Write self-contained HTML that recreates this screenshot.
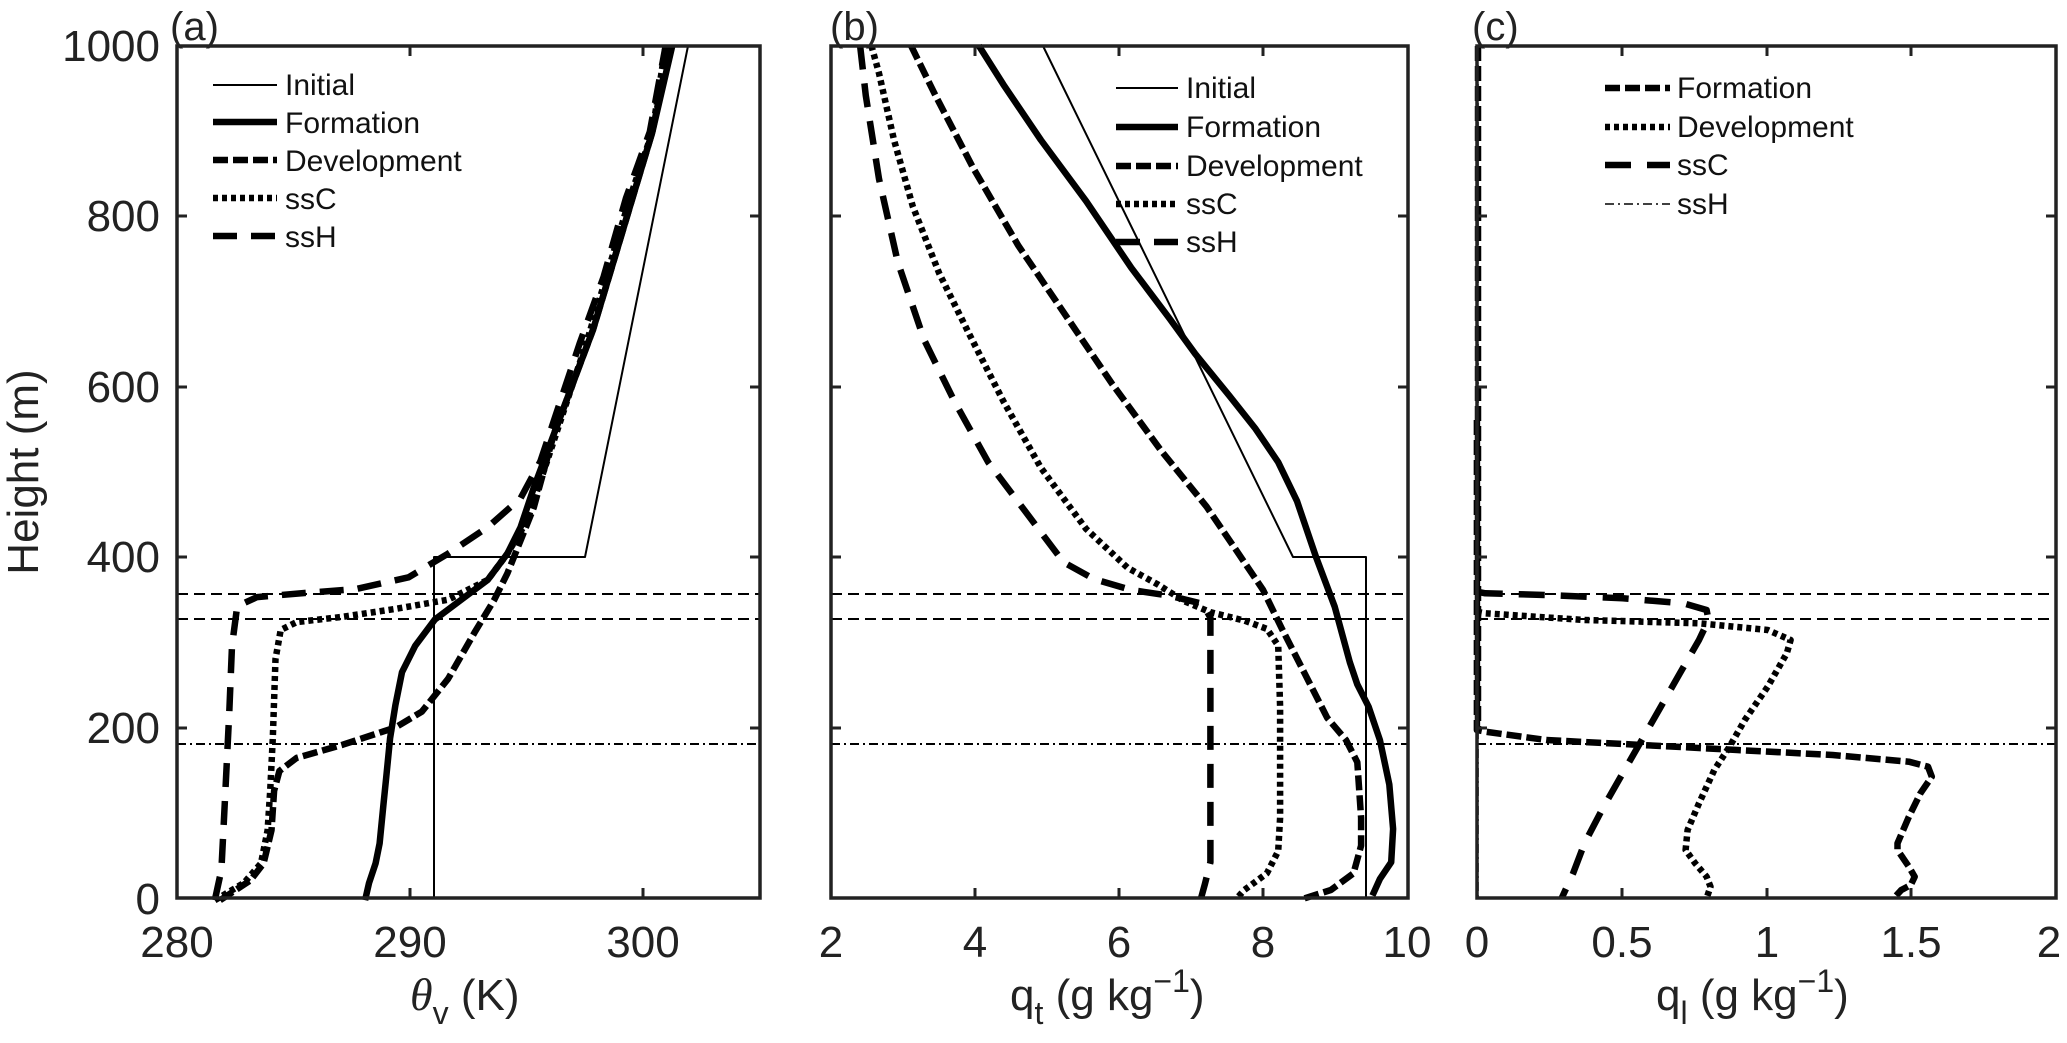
<!DOCTYPE html>
<html><head><meta charset="utf-8">
<style>
html,body{margin:0;padding:0;background:#fff;}
svg{display:block;font-family:"Liberation Sans",sans-serif;}
</style></head>
<body>
<svg id="s" width="2067" height="1043" viewBox="0 0 2067 1043" xmlns="http://www.w3.org/2000/svg">
<rect width="2067" height="1043" fill="#fff"/>
<g id="g"></g>
<g font-size="44" fill="#222">
<text x="170" y="40" font-size="40">(a)</text>
<text x="830" y="40" font-size="40">(b)</text>
<text x="1472" y="40" font-size="40">(c)</text>
<g text-anchor="end">
<text x="160" y="61">1000</text>
<text x="160" y="231">800</text>
<text x="160" y="402">600</text>
<text x="160" y="572">400</text>
<text x="160" y="743">200</text>
<text x="160" y="914">0</text>
</g>
<g text-anchor="middle">
<text x="177" y="957">280</text>
<text x="410" y="957">290</text>
<text x="643" y="957">300</text>
<text x="831" y="957">2</text>
<text x="975" y="957">4</text>
<text x="1119" y="957">6</text>
<text x="1263" y="957">8</text>
<text x="1407" y="957">10</text>
<text x="1477" y="957">0</text>
<text x="1622" y="957">0.5</text>
<text x="1767" y="957">1</text>
<text x="1911" y="957">1.5</text>
<text x="2049" y="957">2</text>
</g>
<text transform="translate(38,472) rotate(-90)" text-anchor="middle">Height (m)</text>
<text x="410" y="1010"><tspan font-family="Liberation Serif,serif" font-style="italic" font-size="46">θ</tspan><tspan dy="14" font-size="32">v</tspan><tspan dy="-14"> (K)</tspan></text>
<text x="1010" y="1010">q<tspan dy="14" font-size="32">t</tspan><tspan dy="-14"> (g kg</tspan><tspan dy="-18" font-size="32">−1</tspan><tspan dy="18">)</tspan></text>
<text x="1656" y="1010">q<tspan dy="14" font-size="32">l</tspan><tspan dy="-14"> (g kg</tspan><tspan dy="-18" font-size="32">−1</tspan><tspan dy="18">)</tspan></text>
</g>
<g font-size="30" fill="#111">
<text x="285" y="95">Initial</text>
<text x="285" y="133">Formation</text>
<text x="285" y="171">Development</text>
<text x="285" y="209">ssC</text>
<text x="285" y="247">ssH</text>
<text x="1186" y="98">Initial</text>
<text x="1186" y="137">Formation</text>
<text x="1186" y="176">Development</text>
<text x="1186" y="214">ssC</text>
<text x="1186" y="252">ssH</text>
<text x="1677" y="98">Formation</text>
<text x="1677" y="137">Development</text>
<text x="1677" y="175">ssC</text>
<text x="1677" y="214">ssH</text>
</g>
</svg>
<script>
var NS="http://www.w3.org/2000/svg",G=document.getElementById("g");
function el(t,a){var e=document.createElementNS(NS,t);for(var k in a)e.setAttribute(k,a[k]);G.appendChild(e);return e;}
function pl(pts,st){var s=pts.map(function(p){return p[0].toFixed(1)+","+p[1].toFixed(1)}).join(" ");
 var a={points:s,fill:"none",stroke:"#000","stroke-width":st.w,"stroke-linejoin":"round"};
 if(st.d)a["stroke-dasharray"]=st.d; el("polyline",a);}
var S={init:{w:2},form:{w:6.5},dev:{w:6.5,d:"15 5"},ssC:{w:6.5,d:"5 4"},ssH:{w:6.5,d:"24 14"},thinDD:{w:1.6,d:"9 4 2 4"}};
function A(arr){return arr.map(function(p){return [p[0]*1.318,p[1]*1.318]});}
[[177,760],[831,1408],[1477,2056]].forEach(function(r){
 el("line",{x1:r[0],x2:r[1],y1:594,y2:594,stroke:"#000","stroke-width":2,"stroke-dasharray":"11 6"});
 el("line",{x1:r[0],x2:r[1],y1:619,y2:619,stroke:"#000","stroke-width":2,"stroke-dasharray":"11 6"});
 el("line",{x1:r[0],x2:r[1],y1:744,y2:744,stroke:"#000","stroke-width":2,"stroke-dasharray":"9 4 2 4"});
});
pl([[434,898],[434,557],[585,557],[688,46]],S.init);
pl(A([[277,683],[280,670],[285,655],[288,640],[291,610],[293,590],[296,560],[300,535],[305,510],[315,490],[330,470],[350,455],[370,440],[385,420],[395,400],[405,370],[420,330],[435,290],[450,250],[465,200],[480,150],[495,100],[510,35]]),S.form);
pl(A([[167,683],[190,668],[200,655],[206,630],[208,600],[212,585],[225,575],[260,565],[300,552],[320,540],[340,515],[360,480],[375,455],[385,435],[395,410],[405,385],[420,330],[435,290],[450,250],[465,200],[480,150],[495,100],[508,35]]),S.dev);
pl(A([[163,683],[185,670],[198,655],[203,630],[205,600],[207,560],[209,500],[213,478],[225,472],[260,468],[300,462],[340,455],[370,440],[385,420],[400,395],[415,350],[430,305],[445,260],[460,210],[478,150],[495,100],[505,35]]),S.ssC);
pl(A([[163,683],[168,660],[171,600],[174,540],[176,490],[180,460],[195,453],[230,450],[270,447],[310,438],[340,420],[370,400],[395,378],[410,350],[425,305],[440,260],[458,210],[475,150],[493,100],[505,35]]),S.ssH);
function B(arr){return arr.map(function(p){return [830+p[0]/2.655,40+p[1]/1.80]});}
pl([[1043,46],[1293,557],[1366,557],[1366,898]],S.init);
pl(B([[395,10],[460,80],[560,180],[680,290],[800,410],[900,500],[970,565],[1060,640],[1130,700],[1190,760],[1240,830],[1290,930],[1340,1020],[1380,1120],[1400,1160],[1430,1200],[1460,1260],[1485,1340],[1495,1420],[1490,1480],[1460,1510],[1440,1540]]),S.form);
pl(B([[215,10],[280,100],[380,230],[500,370],[620,490],[750,620],[880,740],[1000,840],[1080,920],[1150,990],[1200,1060],[1260,1140],[1320,1220],[1370,1260],[1400,1300],[1410,1400],[1410,1450],[1390,1500],[1330,1530],[1260,1545]]),S.dev);
pl(B([[110,10],[130,60],[170,180],[220,300],[290,420],[370,530],[460,650],[560,770],[680,880],[790,950],[870,980],[940,1010],[1010,1030],[1100,1045],[1160,1060],[1190,1090],[1195,1200],[1195,1400],[1190,1460],[1160,1500],[1100,1530],[1080,1545]]),S.ssC);
pl(B([[80,10],[95,100],[130,250],[180,400],[250,540],[330,650],[420,760],[520,850],[620,940],[700,970],[800,990],[900,1000],[990,1015],[1010,1040],[1010,1200],[1010,1480],[995,1520],[985,1545]]),S.ssH);
function C(arr){return arr.map(function(p){return [1470+p[0]/2.62,420+p[1]/3.0]});}
pl([[1478,46],[1478,898]],S.thinDD);
pl([[1478,46],[1478,730]],{w:6.5,d:"15 5"});
pl(C([[18,0],[18,930],[40,935],[200,960],[450,975],[700,990],[950,1005],[1150,1025],[1200,1040],[1210,1070],[1180,1120],[1150,1190],[1120,1270],[1120,1290],[1150,1340],[1165,1370],[1155,1395],[1130,1410],[1110,1435]]),S.dev);
pl(C([[18,575],[40,580],[300,600],[600,610],[780,630],[840,660],[830,700],[780,800],[720,900],[680,980],[640,1050],[600,1150],[570,1230],[565,1290],[590,1330],[620,1370],[630,1400],[620,1435]]),S.ssC);
pl(C([[18,515],[40,520],[200,525],[400,535],[560,550],[620,570],[625,600],[600,660],[550,760],[500,860],[450,960],[400,1060],[350,1160],[300,1270],[270,1360],[240,1435]]),{w:6.5,d:"26 16"});
function box(x0,x1,xt,yt){
 el("rect",{x:x0,y:46,width:x1-x0,height:852,fill:"none",stroke:"#222","stroke-width":3.5});
 xt.forEach(function(x){el("line",{x1:x,x2:x,y1:898,y2:888,stroke:"#222","stroke-width":3});el("line",{x1:x,x2:x,y1:46,y2:56,stroke:"#222","stroke-width":3});});
 yt.forEach(function(y){el("line",{x1:x0,x2:x0+10,y1:y,y2:y,stroke:"#222","stroke-width":3});el("line",{x1:x1,x2:x1-10,y1:y,y2:y,stroke:"#222","stroke-width":3});});
}
var yt=[216,387,557,728];
box(177,760,[410,643],yt);
box(831,1408,[975,1119,1263],yt);
box(1477,2056,[1622,1767,1911],yt);
function leg(x0,x1,y,st){el("line",{x1:x0,x2:x1,y1:y,y2:y,stroke:"#000","stroke-width":st.w,"stroke-dasharray":st.d||"none"});}
leg(213,277,85,S.init);leg(213,277,122,S.form);leg(213,277,160,S.dev);leg(213,277,198,S.ssC);leg(213,277,236,S.ssH);
leg(1116,1178,88,S.init);leg(1116,1178,127,S.form);leg(1116,1178,166,S.dev);leg(1116,1178,204,S.ssC);leg(1116,1178,242,S.ssH);
leg(1605,1670,88,S.dev);leg(1605,1670,127,S.ssC);leg(1605,1670,165,{w:6.5,d:"26 16"});leg(1605,1670,204,S.thinDD);
</script>
</body></html>
